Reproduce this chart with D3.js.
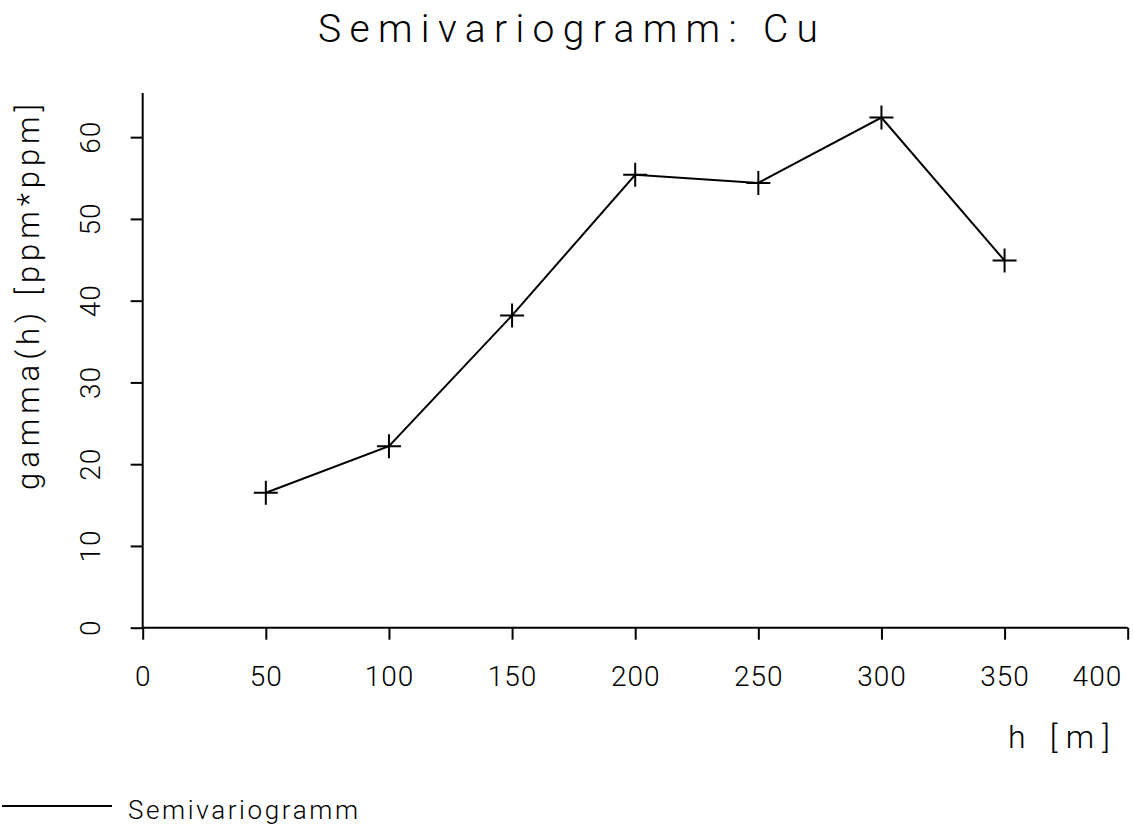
<!DOCTYPE html>
<html>
<head>
<meta charset="utf-8">
<script src="https://cdn.jsdelivr.net/npm/d3@7"></script>
<style>
  body { margin: 0; background: #fff; }
  text { font-family: Roboto, 'DejaVu Sans', sans-serif; font-weight: 300; fill: #000; }
</style>
</head>
<body>
<svg id="chart" width="1133" height="827"></svg>
<script>
// lag distance h [m] and semivariance gamma(h)
var lags = [50, 100, 150, 200, 250, 300, 350]
var gamma = [16.5, 22.2, 38.2, 55.4, 54.4, 62.4, 44.9]
var xTicks = [0, 50, 100, 150, 200, 250, 300, 350, 400]
var yTicks = [0, 10, 20, 30, 40, 50, 60]

var svg = d3.select('#chart')

var x = d3.scaleLinear().domain([0, 400]).range([142.7, 1127.7])
var y = d3.scaleLinear().domain([0, 65.4]).range([627.7, 93])

var data = lags.map(function (h, i) { return { h: h, g: gamma[i] } })

// title
svg.append('text')
  .attr('x', 568).attr('y', 42)
  .attr('text-anchor', 'middle')
  .attr('font-size', 39)
  .attr('textLength', 500).attr('lengthAdjust', 'spacing')
  .text('Semivariogramm: Cu')

// x axis
var xAxis = svg.append('g')
  .attr('transform', 'translate(0,' + y(0) + ')')
  .call(d3.axisBottom(x).tickValues(xTicks).tickSize(12).tickSizeOuter(0).tickPadding(26))
xAxis.select('.domain').remove()
xAxis.selectAll('line').attr('stroke', '#000').attr('stroke-width', 2)
xAxis.selectAll('text').attr('font-size', 28).attr('font-family', null).style('letter-spacing', '1px')
// last label sits inside the right edge
xAxis.selectAll('.tick').filter(function (d) { return d === 400 })
  .select('text').attr('text-anchor', 'end').attr('x', -6)
xAxis.append('line')
  .attr('x1', x(0)).attr('x2', x(400))
  .attr('stroke', '#000').attr('stroke-width', 2)

// y axis
var yAxis = svg.append('g')
  .attr('transform', 'translate(' + x(0) + ',0)')
  .call(d3.axisLeft(y).tickValues(yTicks).tickSize(12).tickSizeOuter(0).tickFormat(''))
yAxis.select('.domain').remove()
yAxis.selectAll('line').attr('stroke', '#000').attr('stroke-width', 2)
yAxis.append('line')
  .attr('y1', y(0)).attr('y2', y(65.4))
  .attr('stroke', '#000').attr('stroke-width', 2)

svg.append('g').selectAll('text')
  .data(yTicks)
  .enter().append('text')
  .attr('transform', function (d) { return 'translate(100,' + y(d) + ') rotate(-90)' })
  .attr('text-anchor', 'middle')
  .attr('font-size', 28)
  .style('letter-spacing', '1px')
  .text(function (d) { return d })

// axis titles
svg.append('text')
  .attr('transform', 'translate(39,490) rotate(-90)')
  .attr('font-size', 31)
  .attr('textLength', 386).attr('lengthAdjust', 'spacing')
  .text('gamma(h) [ppm*ppm]')

svg.append('text')
  .attr('x', 1110).attr('y', 748)
  .attr('text-anchor', 'end')
  .attr('font-size', 32)
  .attr('textLength', 102).attr('lengthAdjust', 'spacing')
  .text('h [m]')

// semivariogram line and markers
var line = d3.line()
  .x(function (d) { return x(d.h) })
  .y(function (d) { return y(d.g) })

svg.append('path')
  .datum(data)
  .attr('d', line)
  .attr('fill', 'none')
  .attr('stroke', '#000')
  .attr('stroke-width', 2)

var cross = 12
svg.append('g').selectAll('path')
  .data(data)
  .enter().append('path')
  .attr('d', function (d) {
    var cx = x(d.h), cy = y(d.g)
    return 'M' + (cx - cross) + ',' + cy + 'H' + (cx + cross) +
      'M' + cx + ',' + (cy - cross) + 'V' + (cy + cross)
  })
  .attr('stroke', '#000')
  .attr('stroke-width', 2)

// legend
svg.append('line')
  .attr('x1', 2).attr('x2', 112).attr('y1', 806).attr('y2', 806)
  .attr('stroke', '#000').attr('stroke-width', 2)
svg.append('text')
  .attr('x', 128).attr('y', 819)
  .attr('font-size', 26)
  .attr('textLength', 230).attr('lengthAdjust', 'spacing')
  .text('Semivariogramm')
</script>
</body>
</html>
